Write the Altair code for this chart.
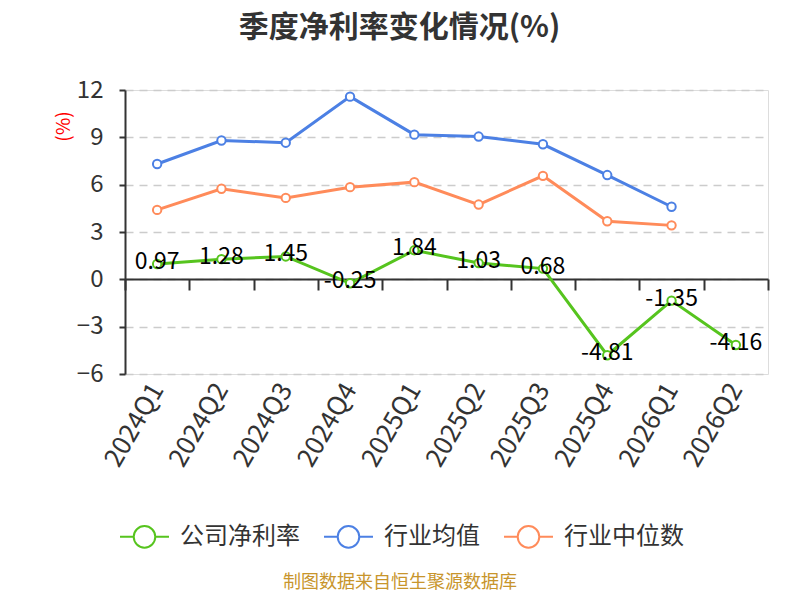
import altair as alt
import pandas as pd

quarters = ["2024Q1", "2024Q2", "2024Q3", "2024Q4", "2025Q1", "2025Q2", "2025Q3", "2025Q4", "2026Q1", "2026Q2"]
company = [0.97, 1.28, 1.45, -0.25, 1.84, 1.03, 0.68, -4.81, -1.35, -4.16]
industry_avg = [7.31, 8.80, 8.66, 11.58, 9.17, 9.05, 8.56, 6.61, 4.60, None]
industry_median = [4.40, 5.74, 5.16, 5.84, 6.16, 4.74, 6.56, 3.68, 3.42, None]

series_names = ["公司净利率", "行业均值", "行业中位数"]
series_colors = ["#56C41E", "#4C80E4", "#FF8B5A"]

rows = []
for name, vals in zip(series_names, [company, industry_avg, industry_median]):
    for q, v in zip(quarters, vals):
        if v is not None:
            rows.append({"季度": q, "系列": name, "值": v})
df = pd.DataFrame(rows)
df_company = pd.DataFrame({"季度": quarters, "值": company, "标签": [f"{v:.2f}" for v in company]})

FONT = "Noto Sans CJK SC"

x_enc = alt.X(
    "季度:N",
    sort=quarters,
    scale=alt.Scale(paddingInner=0, paddingOuter=0, align=0.5),
    axis=alt.Axis(
        title=None,
        offset=-95,
        domain=True,
        domainColor="#333333",
        domainWidth=2,
        ticks=True,
        tickBand="extent",
        tickColor="#333333",
        tickWidth=2,
        tickSize=11,
        labelAngle=300,
        labelAlign="right",
        labelBaseline="middle",
        labelPadding=95,
        labelFontSize=26,
        labelColor="#333333",
        labelFont=FONT,
        grid=False,
    ),
)

y_enc = alt.Y(
    "值:Q",
    scale=alt.Scale(domain=[-6, 12], nice=False, zero=False),
    axis=alt.Axis(
        values=[-6, -3, 0, 3, 6, 9, 12],
        title="(%)",
        titleColor="#FF0000",
        titleFontSize=19,
        titleFontWeight="normal",
        titleFont=FONT,
        titleX=-62,
        titleY=36,
        titleAngle=270,
        titleAlign="center",
        titleBaseline="middle",
        domainColor="#333333",
        domainWidth=2,
        tickColor="#333333",
        tickWidth=2,
        tickSize=6,
        labelPadding=16,
        labelFontSize=24,
        labelColor="#333333",
        labelFont=FONT,
        grid=True,
        gridColor="#CCCCCC",
        gridDash=[8, 6],
        gridWidth=1.5,
    ),
)

legend_symbol = "M-1,0 L-0.44,0 M0.44,0 L1,0 M0.44,0 A0.44,0.44 0 1 1 -0.44,0 A0.44,0.44 0 1 1 0.44,0 Z"

color_enc = alt.Color(
    "系列:N",
    sort=series_names,
    scale=alt.Scale(domain=series_names, range=series_colors),
    legend=alt.Legend(
        title=None,
        orient="none",
        direction="horizontal",
        legendX=-6,
        legendY=421,
        symbolType=legend_symbol,
        symbolSize=2400,
        symbolStrokeWidth=2,
        symbolFillColor="white",
        labelFontSize=24,
        labelFont=FONT,
        labelColor="#333333",
        labelOffset=10,
        columnPadding=20,
    ),
)

lines = alt.Chart(df).mark_line(strokeWidth=3).encode(
    x=x_enc, y=y_enc, color=color_enc, order=alt.value(0)
)

points = alt.Chart(df).mark_point(
    shape="circle", filled=True, fill="white", size=70, strokeWidth=2, opacity=1
).encode(
    x=alt.X("季度:N", sort=quarters),
    y="值:Q",
    stroke=alt.Stroke("系列:N", sort=series_names, scale=alt.Scale(domain=series_names, range=series_colors), legend=None),
)

labels = alt.Chart(df_company).mark_text(
    fontSize=23, font=FONT, color="#000000", baseline="middle", align="center", dy=-2
).encode(
    x=alt.X("季度:N", sort=quarters),
    y="值:Q",
    text="标签:N",
)

source = alt.Chart(pd.DataFrame({"t": ["制图数据来自恒生聚源数据库"]})).mark_text(
    fontSize=18, font=FONT, color="#C8952C", align="center", baseline="middle"
).encode(
    x=alt.value(275), y=alt.value(493), text="t:N"
)

chart = alt.layer(lines, points, labels, source).resolve_scale(
    stroke="independent"
).properties(
    width=643,
    height=284,
    title=alt.TitleParams(
        "季度净利率变化情况(%)",
        fontSize=30,
        font=FONT,
        fontWeight="bold",
        color="#333333",
        anchor="middle",
        frame="group",
        dx=-47,
        offset=35,
    ),
    autosize=alt.AutoSizeParams(type="none"),
    padding={"left": 117, "top": 82, "right": 22, "bottom": 218},
).configure_view(stroke=None).configure(background="white")

chart.save("out.html", embed_options={"renderer": "svg", "actions": False})
